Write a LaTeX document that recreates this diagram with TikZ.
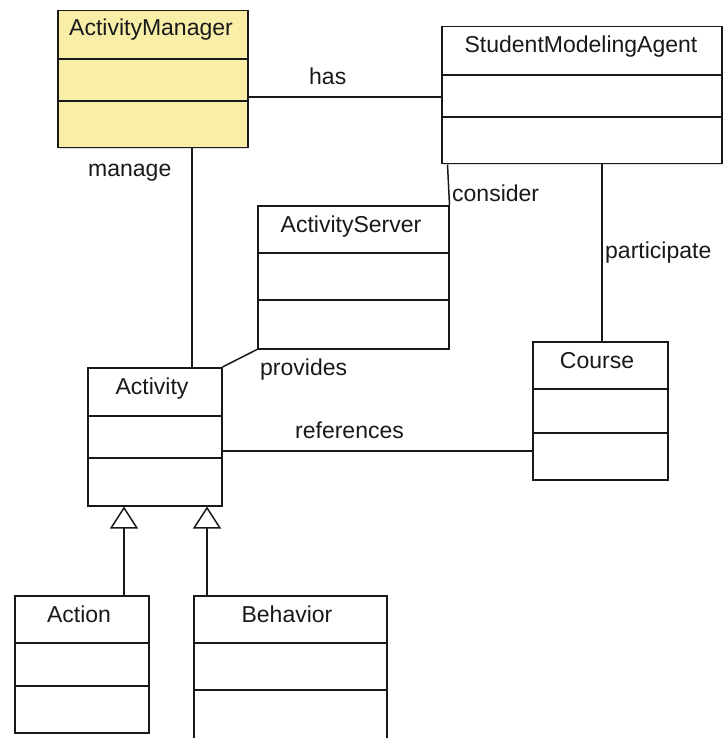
\documentclass[tikz,border=0pt]{standalone}
\usepackage{fontspec}
\setmainfont{Liberation Sans}
\usetikzlibrary{arrows.meta,shadows}

\definecolor{mgrfill}{RGB}{248,238,168}
\definecolor{ink}{RGB}{25,25,25}

\tikzset{
  cls/.style={draw=ink, line width=1.5pt, fill=white, inner sep=0pt,
    anchor=north west,
    drop shadow={shadow xshift=1.2pt, shadow yshift=-1.2pt, opacity=0.25}},
  sep/.style={draw=ink, line width=1.5pt},
  title/.style={anchor=base, inner sep=0pt, text=ink,
    font=\fontsize{23}{27}\selectfont},
  role/.style={anchor=base west, inner sep=0pt, text=ink,
    font=\fontsize{23}{27}\selectfont},
  assoc/.style={draw=ink, line width=1.5pt},
  inherit/.style={draw=ink, line width=1.5pt,
    -{Triangle[open, width=28pt, length=22pt, line width=1.5pt]}}
}

\begin{document}
\begin{tikzpicture}[x=1pt, y=-1pt]
\useasboundingbox (0,0) rectangle (723,738);

% class boxes
\node[cls, fill=mgrfill, minimum width=190pt, minimum height=137pt] (am) at (57,10) {};
\node[cls, minimum width=280pt, minimum height=137pt] (sma) at (441,26) {};
\node[cls, minimum width=191pt, minimum height=143pt] (srv) at (257,205) {};
\node[cls, minimum width=134pt, minimum height=138pt] (act) at (87,367) {};
\node[cls, minimum width=135pt, minimum height=138pt] (crs) at (532,341) {};
\node[cls, minimum width=134pt, minimum height=137pt] (action) at (14,595) {};
\node[cls, minimum width=193pt, minimum height=145pt] (beh) at (193,595) {};

% compartment separators
\draw[sep] (am.west |- 0,59) -- (am.east |- 0,59);
\draw[sep] (am.west |- 0,101) -- (am.east |- 0,101);
\draw[sep] (sma.west |- 0,75) -- (sma.east |- 0,75);
\draw[sep] (sma.west |- 0,117) -- (sma.east |- 0,117);
\draw[sep] (srv.west |- 0,253) -- (srv.east |- 0,253);
\draw[sep] (srv.west |- 0,300) -- (srv.east |- 0,300);
\draw[sep] (act.west |- 0,416) -- (act.east |- 0,416);
\draw[sep] (act.west |- 0,458) -- (act.east |- 0,458);
\draw[sep] (crs.west |- 0,389) -- (crs.east |- 0,389);
\draw[sep] (crs.west |- 0,433) -- (crs.east |- 0,433);
\draw[sep] (action.west |- 0,643) -- (action.east |- 0,643);
\draw[sep] (action.west |- 0,686) -- (action.east |- 0,686);
\draw[sep] (beh.west |- 0,643) -- (beh.east |- 0,643);
\draw[sep] (beh.west |- 0,690) -- (beh.east |- 0,690);

% class names
\node[title] (amT) at (151,36) {ActivityManager};
\node[title] (smaT) at (581,53) {StudentModelingAgent};
\node[title] (srvT) at (351,232) {ActivityServer};
\node[title] (actT) at (152,394) {Activity};
\node[title] (crsT) at (597,368) {Course};
\node[title] (actionT) at (79,622) {Action};
\node[title] (behT) at (287,622) {Behavior};

% associations
\draw[assoc] (am.east |- 0,97) -- (sma.west |- 0,97);
\draw[assoc] (am.south -| 192,0) -- (act.north -| 192,0);
\draw[assoc] (sma.south -| 447.5,0) -- (srv.north east);
\draw[assoc] (sma.south -| 602,0) -- (crs.north -| 602,0);
\draw[assoc] (srv.south west) -- (act.north east);
\draw[assoc] (act.east |- 0,451) -- (crs.west |- 0,451);

% generalizations
\draw[inherit] (action.north -| 124,0) -- (act.south -| 124,0);
\draw[inherit] (beh.north -| 207,0) -- (act.south -| 207,0);

% association roles
\node[role] (has) at (309,85) {has};
\node[role] (manage) at (88,177) {manage};
\node[role] (consider) at (452,201) {consider};
\node[role] (participate) at (605,258) {participate};
\node[role] (provides) at (260,375) {provides};
\node[role] (references) at (295,438) {references};
\end{tikzpicture}
\end{document}
